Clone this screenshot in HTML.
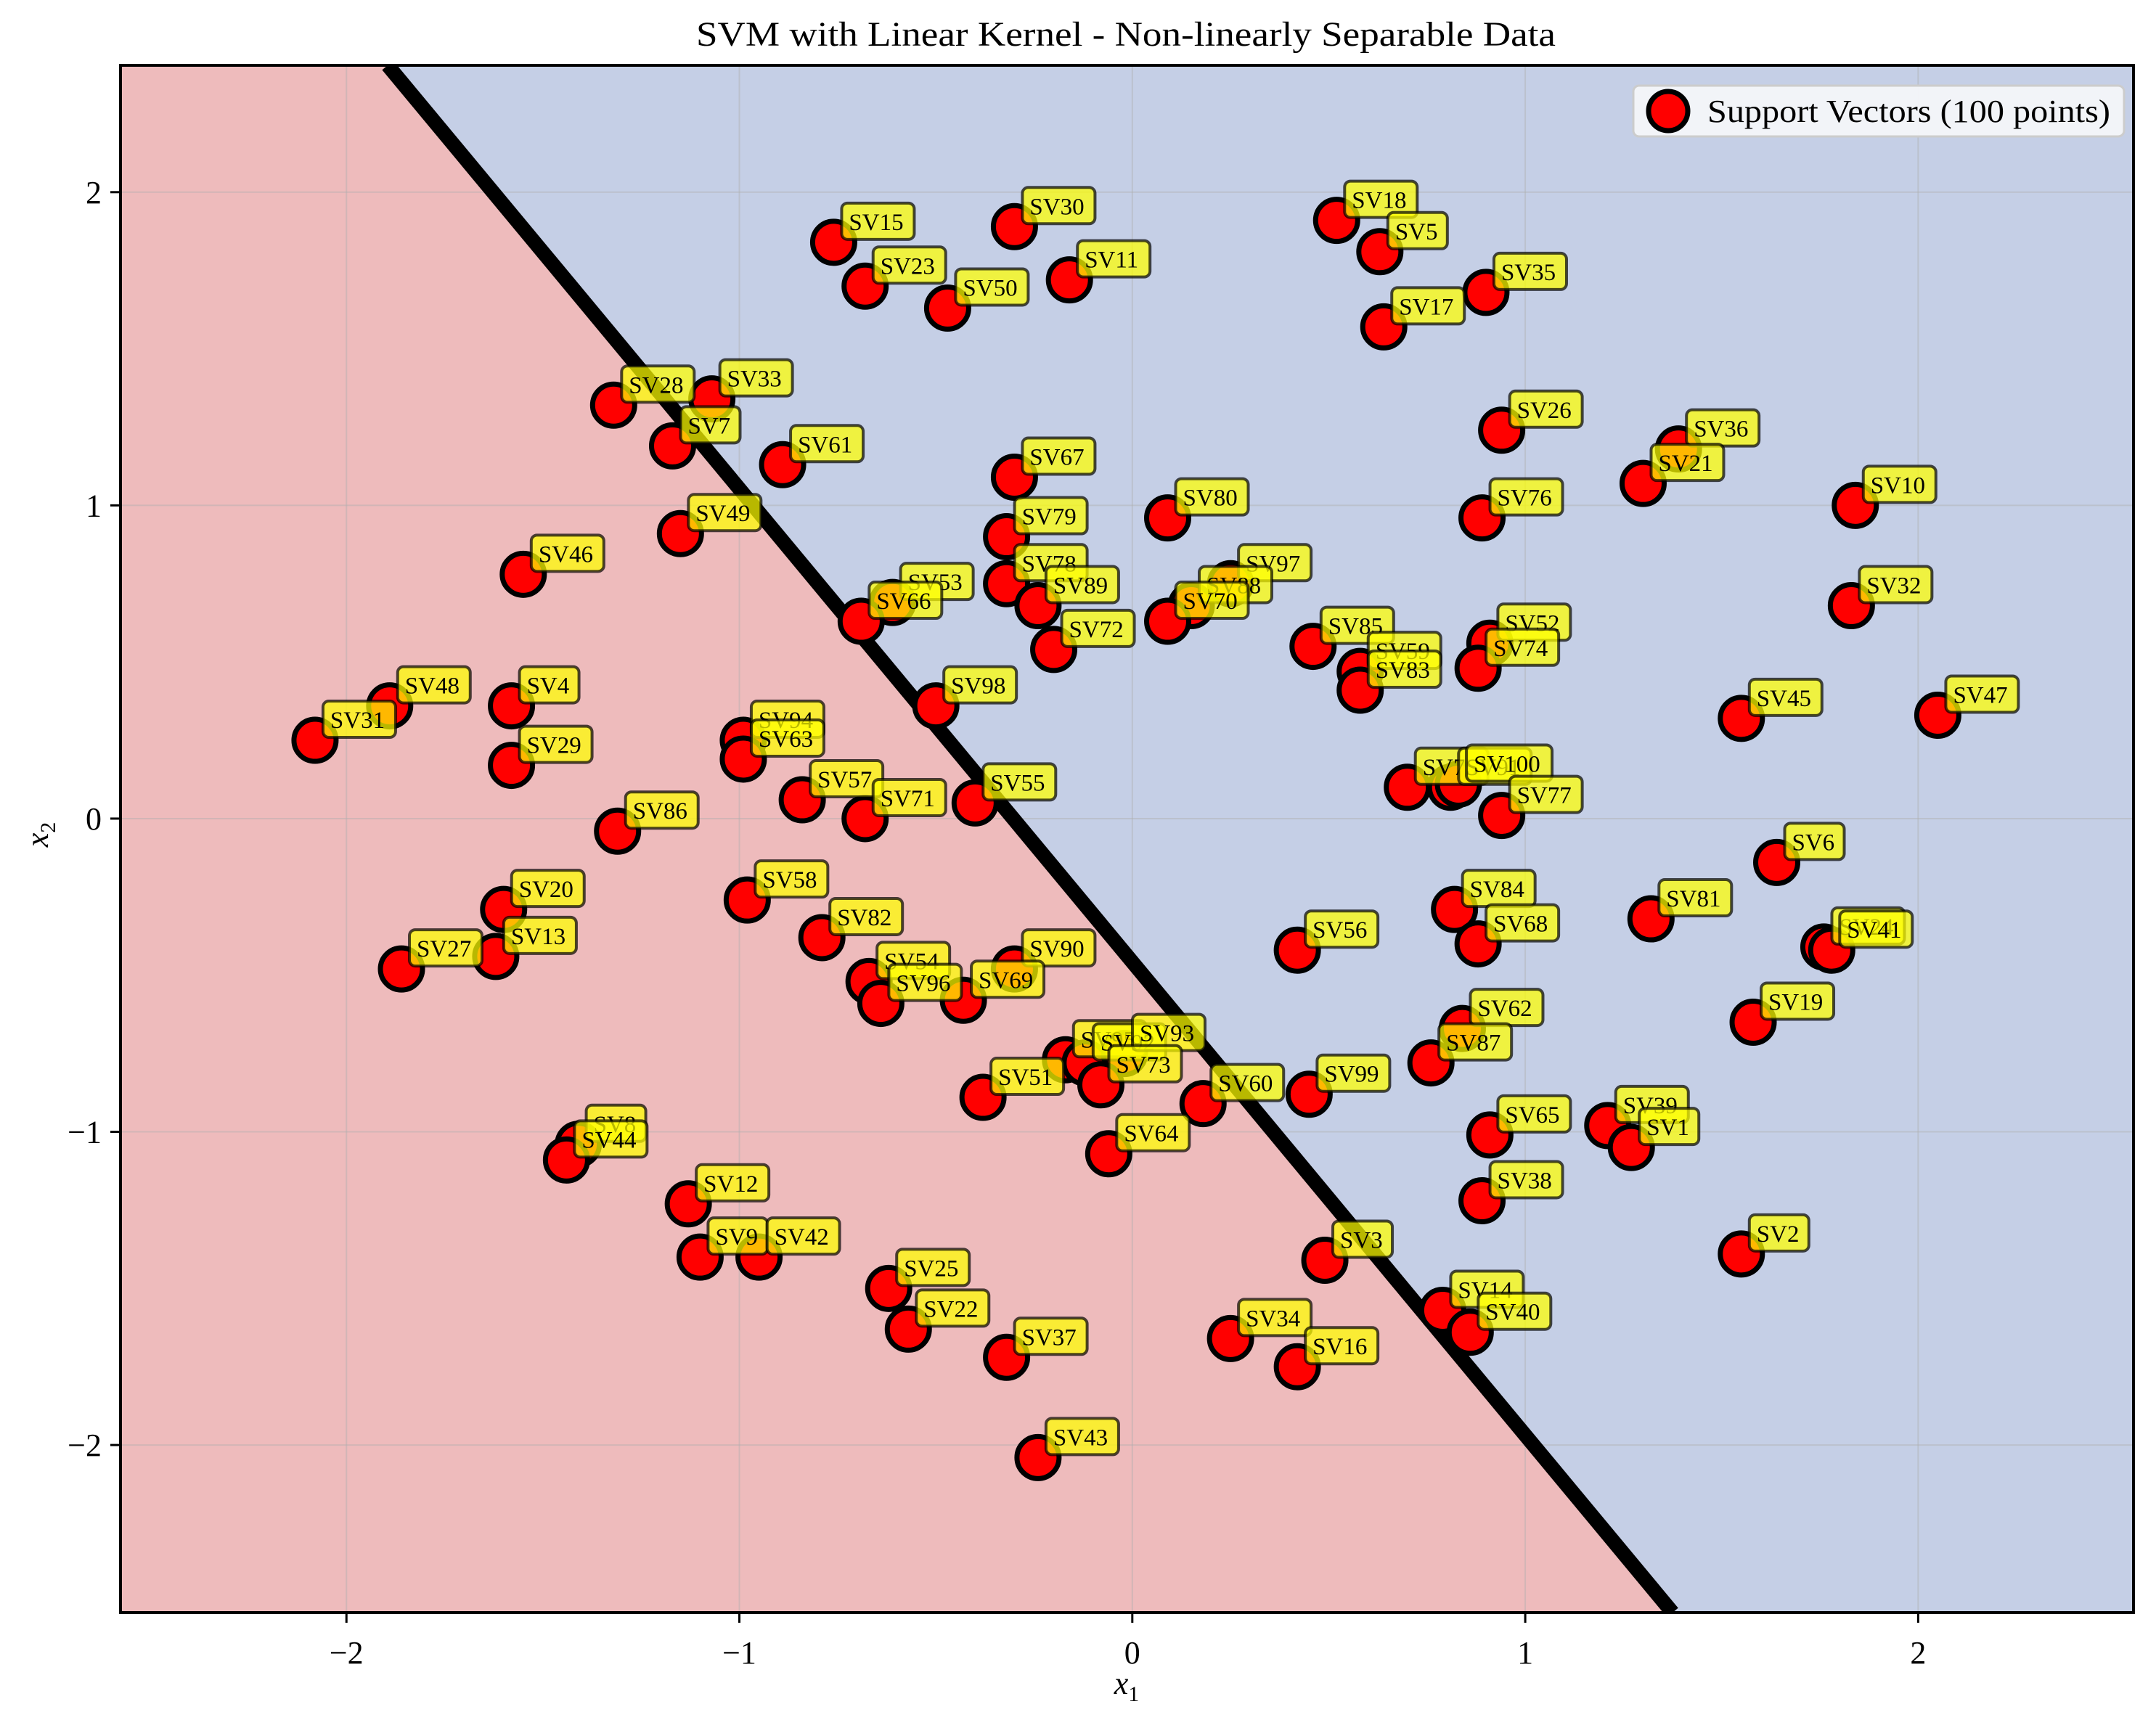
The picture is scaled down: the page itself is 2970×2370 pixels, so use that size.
<!DOCTYPE html>
<html><head><meta charset="utf-8"><style>
html,body{margin:0;padding:0;background:#fff;}
svg{display:block;font-family:"Liberation Serif",serif;}
</style></head><body>
<svg id="chart" width="2970" height="2370" viewBox="0 0 2970 2370" xmlns="http://www.w3.org/2000/svg">
<defs><clipPath id="clip"><rect x="166" y="90" width="2773" height="2132"/></clipPath></defs>
<g id="plot" clip-path="url(#clip)"></g>
<g id="axes"></g>
</svg>
<script>
const labels = ["SV15","SV30","SV23","SV50","SV11","SV18","SV5","SV17","SV35","SV28","SV33","SV7","SV61","SV26","SV36","SV21","SV67","SV10","SV80","SV76","SV49","SV46","SV79","SV97","SV78","SV53","SV66","SV89","SV88","SV70","SV32","SV72","SV85","SV52","SV59","SV74","SV83","SV48","SV4","SV98","SV45","SV47","SV31","SV94","SV63","SV29","SV57","SV71","SV55","SV75","SV91","SV100","SV77","SV86","SV6","SV20","SV84","SV68","SV81","SV58","SV82","SV27","SV13","SV90","SV54","SV96","SV69","SV56","SV24","SV41","SV19","SV62","SV87","SV95","SV92","SV93","SV73","SV51","SV60","SV99","SV65","SV39","SV1","SV8","SV44","SV64","SV12","SV38","SV9","SV42","SV3","SV2","SV25","SV22","SV14","SV40","SV34","SV37","SV16","SV43"];
const xs = [-0.76,-0.30,-0.68,-0.47,-0.16,0.52,0.63,0.64,0.90,-1.32,-1.07,-1.17,-0.89,0.94,1.39,1.30,-0.30,1.84,0.09,0.89,-1.15,-1.55,-0.32,0.25,-0.32,-0.61,-0.69,-0.24,0.15,0.09,1.83,-0.20,0.46,0.91,0.58,0.88,0.58,-1.89,-1.58,-0.50,1.55,2.05,-2.08,-0.99,-0.99,-1.58,-0.84,-0.68,-0.40,0.70,0.81,0.83,0.94,-1.31,1.64,-1.60,0.82,0.88,1.32,-0.98,-0.79,-1.86,-1.62,-0.30,-0.67,-0.64,-0.43,0.42,1.76,1.78,1.58,0.84,0.76,-0.17,-0.12,-0.02,-0.08,-0.38,0.18,0.45,0.91,1.21,1.27,-1.41,-1.44,-0.06,-1.13,0.89,-1.10,-0.95,0.49,1.55,-0.62,-0.57,0.79,0.86,0.25,-0.32,0.42,-0.24];
const ys = [1.84,1.89,1.70,1.63,1.72,1.91,1.81,1.57,1.68,1.32,1.34,1.19,1.13,1.24,1.18,1.07,1.09,1.00,0.96,0.96,0.91,0.78,0.90,0.75,0.75,0.69,0.63,0.68,0.68,0.63,0.68,0.54,0.55,0.56,0.47,0.48,0.41,0.36,0.36,0.36,0.32,0.33,0.25,0.25,0.19,0.17,0.06,0.00,0.05,0.10,0.10,0.11,0.01,-0.04,-0.14,-0.29,-0.29,-0.40,-0.32,-0.26,-0.38,-0.48,-0.44,-0.48,-0.52,-0.59,-0.58,-0.42,-0.41,-0.42,-0.65,-0.67,-0.78,-0.77,-0.78,-0.75,-0.85,-0.89,-0.91,-0.88,-1.01,-0.98,-1.05,-1.04,-1.09,-1.07,-1.23,-1.22,-1.40,-1.40,-1.41,-1.39,-1.50,-1.63,-1.57,-1.64,-1.66,-1.72,-1.75,-2.04];
const xTicks = [-2,-1,0,1,2];
const yTicks = [-2,-1,0,1,2];
const boundaryX = [-1.895, 1.375];
const boundaryY = [2.405, -2.535];

const NS="http://www.w3.org/2000/svg";
const X0=166,X1=2939,Y0=90,Y1=2222;
const xmin=-2.575,xmax=2.548,ymin=-2.535,ymax=2.405;
function sx(v){return X0+(v-xmin)/(xmax-xmin)*(X1-X0);}
function sy(v){return Y1-(v-ymin)/(ymax-ymin)*(Y1-Y0);}
function mk(tag,attrs,parent,text){const e=document.createElementNS(NS,tag);for(const k in attrs)e.setAttribute(k,attrs[k]);if(text!==undefined)e.textContent=text;parent.appendChild(e);return e;}
const plot=document.getElementById('plot'),axes=document.getElementById('axes');

const bx0=sx(boundaryX[0]),by0=sy(boundaryY[0]),bx1=sx(boundaryX[1]),by1=sy(boundaryY[1]);
let r=mk('rect',{x:X0,y:Y0,width:X1-X0,height:Y1-Y0,fill:'#c5cfe6'},plot);


let p=mk('polygon',{points:`${X0},${Y0} ${bx0},${by0} ${bx1},${by1} ${X0},${Y1}`,fill:'#eebbbc'},plot);


xTicks.forEach(t=>{let g=mk('line',{x1:sx(t),x2:sx(t),y1:Y0,y2:Y1,stroke:'#b0b0b0','stroke-opacity':0.45,'stroke-width':2},plot);

});
yTicks.forEach(t=>{let g=mk('line',{y1:sy(t),y2:sy(t),x1:X0,x2:X1,stroke:'#b0b0b0','stroke-opacity':0.45,'stroke-width':2},plot);

});
let bl=mk('line',{x1:bx0,y1:by0,x2:bx1,y2:by1,stroke:'#000','stroke-width':20},plot);


xs.forEach((v,i)=>{let c=mk('circle',{cx:sx(v),cy:sy(ys[i]),r:29,fill:'#ff0000',stroke:'#000','stroke-width':7},plot);

});
xs.forEach((v,i)=>{const px=sx(v),py=sy(ys[i]);const w=labels[i].length>4?118:(labels[i].length>3?100:82);
let g=mk('g',{},plot);


mk('rect',{x:px+11,y:py-54,width:w,height:50,rx:8,fill:'#ffff00','fill-opacity':0.72,stroke:'#000','stroke-opacity':0.7,'stroke-width':4},g);
mk('text',{x:px+21,y:py-17,'font-size':33,fill:'#000'},g,labels[i]);});
let fr=mk('rect',{x:X0,y:Y0,width:X1-X0,height:Y1-Y0,fill:'none',stroke:'#000','stroke-width':4},axes);


xTicks.forEach(t=>{mk('line',{x1:sx(t),x2:sx(t),y1:Y1,y2:Y1+14,stroke:'#000','stroke-width':3},axes);
let tx=mk('text',{x:sx(t),y:Y1+70,'font-size':44,'text-anchor':'middle'},axes,t<0?'\u2212'+(-t):String(t));

});
yTicks.forEach(t=>{mk('line',{x1:X0-14,x2:X0,y1:sy(t),y2:sy(t),stroke:'#000','stroke-width':3},axes);
let tx=mk('text',{x:X0-26,y:sy(t)+15,'font-size':44,'text-anchor':'end'},axes,t<0?'\u2212'+(-t):String(t));

});
</script>
<svg style="position:absolute;left:0;top:0" width="2970" height="2370" xmlns="http://www.w3.org/2000/svg">
<text x="1551" y="63" font-size="48" text-anchor="middle" font-family="Liberation Serif, serif" textLength="1184" lengthAdjust="spacingAndGlyphs">SVM with Linear Kernel - Non-linearly Separable Data</text>
<text x="1552" y="2334" font-size="44" text-anchor="middle" font-style="italic" font-family="Liberation Serif, serif">x<tspan font-size="30" dy="10" font-style="normal">1</tspan></text>
<text transform="translate(66,1150) rotate(-90)" font-size="44" text-anchor="middle" font-style="italic" font-family="Liberation Serif, serif">x<tspan font-size="30" dy="10" font-style="normal">2</tspan></text>
<g>
<rect x="2250" y="118" width="676" height="70" rx="8" fill="#f4f5f9" fill-opacity="0.95" stroke="#cccccc" stroke-width="3"/>
<circle cx="2298" cy="153" r="27" fill="#ff0000" stroke="#000" stroke-width="7"/>
<text x="2352" y="168" font-size="44" font-family="Liberation Serif, serif" textLength="555" lengthAdjust="spacingAndGlyphs">Support Vectors (100 points)</text>
</g>
</svg>
</body></html>
